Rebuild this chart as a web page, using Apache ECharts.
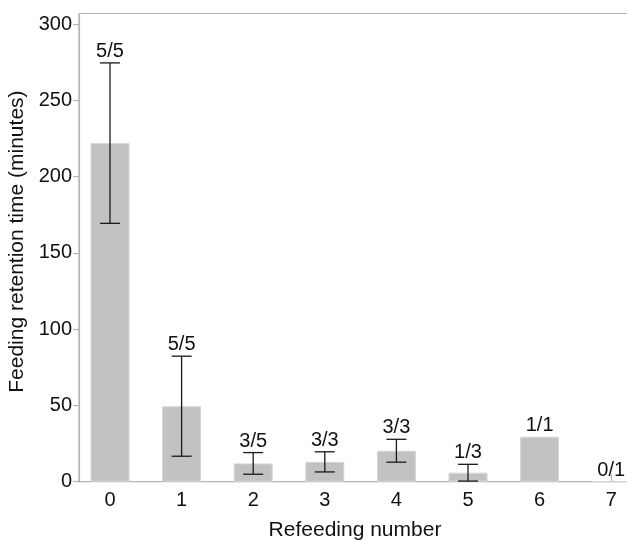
<!DOCTYPE html>
<html>
<head>
<meta charset="utf-8">
<script src="https://cdn.jsdelivr.net/npm/echarts@6/dist/echarts.min.js"></script>
<style>
  html, body { margin: 0; padding: 0; background: #fff; }
  #chart { width: 627px; height: 541px; }
</style>
</head>
<body>
<div id="chart"></div>
<script>
// Refeeding rounds and mean feeding retention time (minutes) with SD
const refeedings = [0, 1, 2, 3, 4, 5, 6, 7];
const retentionMean = [222, 49.5, 12, 13, 20.3, 5.9, 29.5, 0];
const retentionSD = [52.6, 32.8, 7.1, 6.6, 7.5, 5.5, 0, 0];
// Animals that fed / animals tested at each round
const fedCounts = ['5/5', '5/5', '3/5', '3/3', '3/3', '1/3', '1/1', '0/1'];
const yTicks = [0, 50, 100, 150, 200, 250, 300];

const FONT = '"Liberation Sans", Arial, Helvetica, sans-serif';
const AXIS_GREY = '#b4b4b4';

const chart = echarts.init(document.getElementById('chart'), null, { renderer: 'canvas' });

const barData = refeedings.map((r, i) => [r, retentionMean[i]]);
const errData = refeedings.map((r, i) => [r, retentionMean[i], retentionSD[i]]);

chart.setOption({
  backgroundColor: '#ffffff',
  animation: false,
  grid: {
    left: 79, top: 13.5, width: 568, height: 468.2,
    outerBoundsMode: 'none',
    containLabel: false,
    show: true, borderColor: AXIS_GREY, borderWidth: 1.2, backgroundColor: 'transparent'
  },
  xAxis: {
    type: 'value',
    min: -0.433, max: 7.5,
    name: 'Refeeding number',
    nameLocation: 'middle',
    nameGap: 38,
    nameTextStyle: { fontFamily: FONT, fontSize: 21, color: '#111', padding: [0, 16, 0, 0] },
    axisLine: { show: true, onZero: false, lineStyle: { color: AXIS_GREY, width: 1.2 } },
    axisTick: { show: true, inside: true, length: 7, customValues: refeedings, lineStyle: { color: AXIS_GREY, width: 1.2 } },
    axisLabel: { customValues: refeedings, margin: 9, fontFamily: FONT, fontSize: 20, color: '#111' },
    splitLine: { show: false }
  },
  yAxis: {
    type: 'value',
    min: 0, max: 307,
    name: 'Feeding retention time (minutes)',
    nameLocation: 'middle',
    nameGap: 44,
    nameRotate: 90,
    nameTextStyle: { fontFamily: FONT, fontSize: 21, color: '#111', padding: [0, 0, 0, 12] },
    axisLine: { show: true, onZero: false, lineStyle: { color: AXIS_GREY, width: 1.2 } },
    axisTick: { show: true, inside: false, length: 6, customValues: yTicks, lineStyle: { color: AXIS_GREY, width: 1.2 } },
    axisLabel: { customValues: yTicks, margin: 7, fontFamily: FONT, fontSize: 20, color: '#111' },
    splitLine: { show: false }
  },
  series: [
    {
      type: 'bar',
      data: barData,
      barWidth: 39,
      itemStyle: { color: '#c2c2c2', borderColor: '#d6d6d6', borderWidth: 1 },
      z: 2
    },
    {
      type: 'custom',
      data: errData,
      z: 5,
      renderItem: function (params, api) {
        const x = api.value(0);
        const mean = api.value(1);
        const sd = api.value(2);
        const top = api.coord([x, mean + sd]);
        const children = [];
        if (sd > 0) {
          const bottom = api.coord([x, Math.max(mean - sd, 0)]);
          const cap = 10;
          const style = { stroke: '#1a1a1a', lineWidth: 1.3 };
          children.push(
            { type: 'line', shape: { x1: top[0], y1: top[1], x2: bottom[0], y2: bottom[1] }, style: style },
            { type: 'line', shape: { x1: top[0] - cap, y1: top[1], x2: top[0] + cap, y2: top[1] }, style: style },
            { type: 'line', shape: { x1: bottom[0] - cap, y1: bottom[1], x2: bottom[0] + cap, y2: bottom[1] }, style: style }
          );
        }
        children.push({
          type: 'text',
          style: {
            x: top[0], y: top[1] - 1.5,
            text: fedCounts[params.dataIndex],
            fill: '#111',
            font: '20px ' + FONT,
            align: 'center',
            verticalAlign: 'bottom'
          }
        });
        return { type: 'group', children: children };
      }
    }
  ]
});
</script>
</body>
</html>
